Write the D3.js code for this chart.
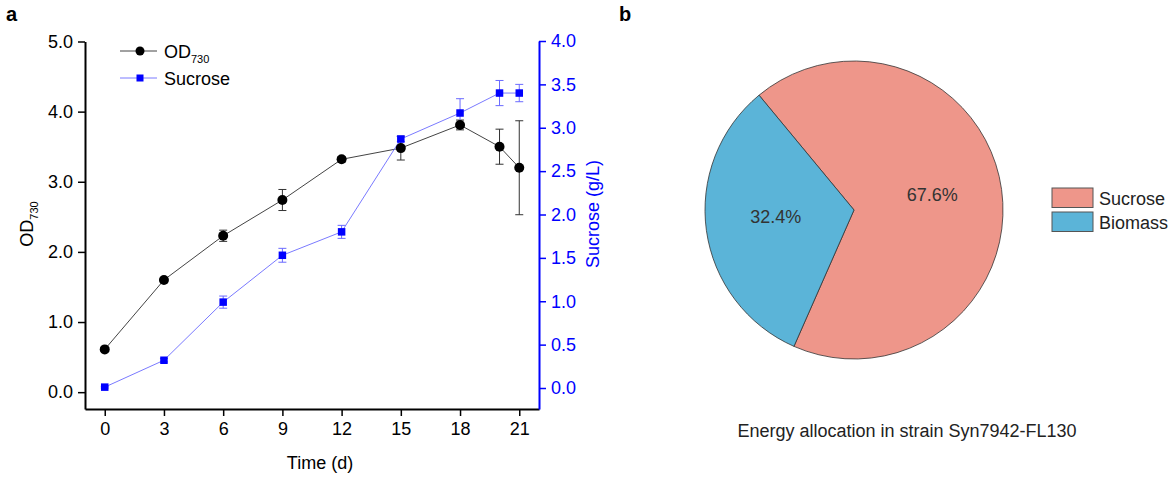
<!DOCTYPE html>
<html>
<head>
<meta charset="utf-8">
<script src="https://cdn.jsdelivr.net/npm/d3@7"></script>
<style>
  html, body { margin: 0; padding: 0; background: #fff; }
  svg { display: block; font-family: "Liberation Sans", Arial, sans-serif; }
</style>
</head>
<body>
<svg id="fig" width="1175" height="481"></svg>
<script>
// ---- Panel a: growth and sucrose time course ----
const days        = [0, 3, 6, 9, 12, 15, 18, 20, 21];
const odMean      = [0.61, 1.60, 2.23, 2.74, 3.32, 3.48, 3.81, 3.50, 3.20];
const odErr       = [0.02, 0.03, 0.08, 0.15, 0.04, 0.17, 0.07, 0.25, 0.67];
const sucroseMean = [0.01, 0.32, 0.99, 1.53, 1.80, 2.87, 3.17, 3.40, 3.40];
const sucroseErr  = [0.01, 0.02, 0.07, 0.08, 0.075, 0.03, 0.165, 0.145, 0.10];
const xTicks      = [0, 3, 6, 9, 12, 15, 18, 21];
const odTicks     = [0, 1, 2, 3, 4, 5];
const sucTicks    = [0, 0.5, 1, 1.5, 2, 2.5, 3, 3.5, 4];

// ---- Panel b: energy allocation ----
const pieLabels = ["Sucrose", "Biomass"];
const pieShares = [67.6, 32.4];
const pieColors = ["#EE968A", "#5BB4D8"];

const svg = d3.select("#fig");
const blue = "#0000ff";
const FS = 18;

// Scales
const x = d3.scaleLinear().domain([-1, 22]).range([85, 539]);
const yOD = d3.scaleLinear().domain([-0.24, 5.0]).range([409, 41.5]);
const ySuc = d3.scaleLinear().domain([-0.242, 4.0]).range([409, 41]);

// Panel letters
svg.append("text").attr("x", 6).attr("y", 21).attr("font-size", 20).attr("font-weight", "bold").text("a");
svg.append("text").attr("x", 619).attr("y", 21).attr("font-size", 20).attr("font-weight", "bold").text("b");

function styleAxis(g, color) {
  g.selectAll(".domain").attr("stroke", color).attr("stroke-width", 2);
  g.selectAll(".tick line").attr("stroke", color).attr("stroke-width", 1.5);
  g.selectAll(".tick text").attr("fill", color).attr("font-size", FS)
    .attr("font-family", "Liberation Sans, Arial, sans-serif");
}

// Bottom axis
const gx = svg.append("g").attr("transform", "translate(0,409)")
  .call(d3.axisBottom(x).tickValues(xTicks).tickSize(7).tickPadding(6).tickSizeOuter(0));
styleAxis(gx, "#000");

// Left axis
const gl = svg.append("g").attr("transform", "translate(85,0)")
  .call(d3.axisLeft(yOD).tickValues(odTicks).tickFormat(d3.format(".1f")).tickSize(7).tickPadding(5).tickSizeOuter(0));
styleAxis(gl, "#000");

// Right axis
const gr = svg.append("g").attr("transform", "translate(539,0)")
  .call(d3.axisRight(ySuc).tickValues(sucTicks).tickFormat(d3.format(".1f")).tickSize(7).tickPadding(5).tickSizeOuter(0));
styleAxis(gr, blue);

// Axis titles
svg.append("text").attr("x", 320).attr("y", 469).attr("text-anchor", "middle").attr("font-size", FS).text("Time (d)");

const odTitle = svg.append("text").attr("transform", "translate(33,224) rotate(-90)")
  .attr("text-anchor", "middle").attr("font-size", FS);
odTitle.append("tspan").text("OD");
odTitle.append("tspan").attr("font-size", 11).attr("dy", 5).text("730");

svg.append("text").attr("transform", "translate(599,214) rotate(-90)")
  .attr("text-anchor", "middle").attr("font-size", FS).attr("fill", blue).text("Sucrose (g/L)");

// Series data tables
const odData = days.map((d, i) => ({ d, v: odMean[i], e: odErr[i] }));
const sucData = days.map((d, i) => ({ d, v: sucroseMean[i], e: sucroseErr[i] }));

function errorBars(data, yScale, color, cap) {
  const g = svg.append("g").attr("stroke", color).attr("stroke-width", 1);
  data.forEach(p => {
    const x0 = x(p.d), y1 = yScale(p.v + p.e), y2 = yScale(p.v - p.e);
    g.append("line").attr("x1", x0).attr("x2", x0).attr("y1", y1).attr("y2", y2);
    g.append("line").attr("x1", x0 - cap).attr("x2", x0 + cap).attr("y1", y1).attr("y2", y1);
    g.append("line").attr("x1", x0 - cap).attr("x2", x0 + cap).attr("y1", y2).attr("y2", y2);
  });
}

// Lines
svg.append("path").datum(odData)
  .attr("fill", "none").attr("stroke", "#444").attr("stroke-width", 1)
  .attr("d", d3.line().x(p => x(p.d)).y(p => yOD(p.v)));
svg.append("path").datum(sucData)
  .attr("fill", "none").attr("stroke", "#7a7aff").attr("stroke-width", 1)
  .attr("d", d3.line().x(p => x(p.d)).y(p => ySuc(p.v)));

// Error bars
errorBars(odData, yOD, "#333", 4);
errorBars(sucData, ySuc, "#6a6aff", 4);

// Markers
svg.append("g").selectAll("circle").data(odData).join("circle")
  .attr("cx", p => x(p.d)).attr("cy", p => yOD(p.v)).attr("r", 5).attr("fill", "#000");
svg.append("g").selectAll("rect").data(sucData).join("rect")
  .attr("x", p => x(p.d) - 3.75).attr("y", p => ySuc(p.v) - 3.75)
  .attr("width", 7.5).attr("height", 7.5).attr("fill", blue);

// Legend for panel a
const lg = svg.append("g");
lg.append("line").attr("x1", 120).attr("x2", 157).attr("y1", 51).attr("y2", 51).attr("stroke", "#444").attr("stroke-width", 1);
lg.append("circle").attr("cx", 140).attr("cy", 51).attr("r", 4.5).attr("fill", "#000");
const odLeg = lg.append("text").attr("x", 164).attr("y", 58).attr("font-size", FS);
odLeg.append("tspan").text("OD");
odLeg.append("tspan").attr("font-size", 11).attr("dy", 5).text("730");
lg.append("line").attr("x1", 120).attr("x2", 157).attr("y1", 78).attr("y2", 78).attr("stroke", "#7a7aff").attr("stroke-width", 1);
lg.append("rect").attr("x", 136.5).attr("y", 74.5).attr("width", 7).attr("height", 7).attr("fill", blue);
lg.append("text").attr("x", 164).attr("y", 84.5).attr("font-size", FS).text("Sucrose");

// ---- Pie ----
const cx = 854, cy = 210, r = 149;
const startDeg = -39.6;
const pie = d3.pie().sort(null)
  .startAngle(startDeg * Math.PI / 180)
  .endAngle((startDeg + 360) * Math.PI / 180);
const arcs = pie(pieShares);
const arc = d3.arc().innerRadius(0).outerRadius(r);
const pg = svg.append("g").attr("transform", `translate(${cx},${cy})`);
pg.selectAll("path").data(arcs).join("path")
  .attr("d", arc)
  .attr("fill", (d, i) => pieColors[i])
  .attr("stroke", "#333").attr("stroke-width", 0.8);

const labelArc = d3.arc().innerRadius(r * 0.53).outerRadius(r * 0.53);
pg.selectAll("text").data(arcs).join("text")
  .attr("transform", d => `translate(${labelArc.centroid(d)})`)
  .attr("text-anchor", "middle").attr("dy", "0.1em")
  .attr("font-size", FS).attr("fill", "#333")
  .text((d, i) => pieShares[i].toFixed(1) + "%");

// Pie legend
const pl = svg.append("g");
pieLabels.forEach((lab, i) => {
  pl.append("rect").attr("x", 1052).attr("y", 188 + i * 24).attr("width", 41).attr("height", 19.5)
    .attr("fill", pieColors[i]).attr("stroke", "#555").attr("stroke-width", 1);
  pl.append("text").attr("x", 1099).attr("y", 204.5 + i * 24).attr("font-size", FS).attr("fill", "#222").text(lab);
});

svg.append("text").attr("x", 907).attr("y", 437).attr("text-anchor", "middle")
  .attr("font-size", FS).attr("fill", "#222").text("Energy allocation in strain Syn7942-FL130");
</script>
</body>
</html>
